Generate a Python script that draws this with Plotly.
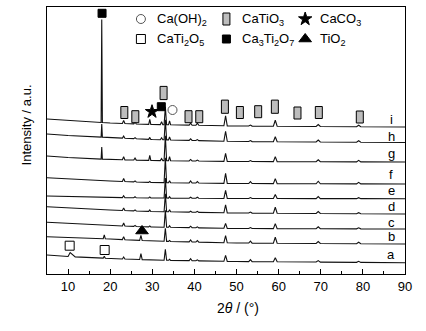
import numpy as np
import plotly.graph_objects as go

# ---------------- data ----------------
# baseline anchors (2theta) and baseline level of each pattern (arbitrary units)
BASE_ANG = [5, 10, 20, 30, 50, 90]
BASE_A = [19.0, 17.5, 15.5, 14.0, 12.5, 11.3]
BASE_B = [37.3, 36.5, 35.0, 33.0, 31.0, 30.0]
BASE_C = [51.7, 50.5, 48.5, 47.0, 45.5, 45.0]
BASE_D = [67.3, 66.0, 64.0, 62.5, 61.0, 60.0]
BASE_E = [78.0, 77.5, 76.5, 76.0, 75.5, 75.3]
BASE_F = [96.3, 95.0, 93.0, 91.5, 90.5, 90.0]
BASE_G = [118.0, 116.5, 114.5, 113.5, 112.5, 112.0]
BASE_H = [140.0, 138.5, 136.5, 134.5, 132.5, 131.5]
BASE_I = [155.0, 153.5, 151.0, 149.5, 148.0, 147.0]

# peak positions (2theta) and half widths
PEAK_POS = [10.5, 18.0, 18.6, 23.2, 25.9, 27.3, 29.4, 32.2, 33.1, 34.1,
            39.1, 40.7, 47.4, 53.3, 59.2, 69.4, 79.0]
PEAK_WID = [1.2, 0.15, 0.25, 0.3, 0.3, 0.3, 0.25, 0.3, 0.3, 0.25,
            0.35, 0.35, 0.4, 0.4, 0.45, 0.5, 0.5]
# peak heights of each pattern
H_A = [4, 0, 2, 2, 0, 6, 0, 0, 11, 1, 2, 1, 6, 2, 4, 1.5, 1]
H_B = [0, 0, 4, 3, 0, 5, 0, 0, 13, 1, 2, 1.5, 7, 2, 6, 2, 1.5]
H_C = [0, 0, 0, 3, 1, 0, 1, 0, 17, 1.5, 1.5, 1, 5, 1, 5, 2, 1]
H_D = [0, 0, 0, 2.5, 1, 0, 1.5, 0, 18, 2, 1, 1, 8, 1, 6, 2, 1]
H_E = [0, 0, 0, 2, 1, 0, 1, 0, 20, 1.5, 1, 1, 8, 1, 4, 2, 1]
H_F = [0, 0, 0, 3, 1, 0, 1, 0, 25, 2, 2, 1.5, 10, 2, 5, 2.5, 1.5]
H_G = [0, 12, 0, 3, 2, 0, 5, 2, 25, 4, 1.5, 1, 8, 1, 5, 2, 1.5]
H_H = [0, 13, 0, 2, 1, 0, 2, 2, 20, 3, 1.5, 1, 10, 1, 5, 2, 1.5]
H_I = [0, 103, 0, 3, 2, 0, 5, 3, 18, 4, 2, 2, 10, 1, 6, 2, 1.5]

SAMPLE_LABELS = ["a", "b", "c", "d", "e", "f", "g", "h", "i"]
LABEL_Y = [20, 37.5, 52, 67.5, 84, 100, 121, 138, 155]

# phase markers (2theta, level)
CATIO3_X = [23.36, 25.97, 32.68, 38.6, 41.15, 47.24, 50.8, 55.14, 59.1, 64.47, 69.54, 79.27]
CATIO3_Y = [161.5, 157.3, 181, 157.3, 157.3, 167.3, 161.5, 162.3, 167.3, 161, 161.5, 157]
CACO3_X = [29.93]
CACO3_Y = [162.3]
CA3TI2O7_X = [18.07, 32.14]
CA3TI2O7_Y = [260.7, 167.3]
CAOH2_X = [34.8]
CAOH2_Y = [164]
CATI2O5_X = [10.38, 18.69]
CATI2O5_Y = [28.3, 24]
TIO2_X = [27.56]
TIO2_Y = [43]

LEGEND_TEXT = ["Ca(OH)<sub>2</sub>", "CaTiO<sub>3</sub>", "CaCO<sub>3</sub>",
               "CaTi<sub>2</sub>O<sub>5</sub>", "Ca<sub>3</sub>Ti<sub>2</sub>O<sub>7</sub>", "TiO<sub>2</sub>"]

# ---------------- build figure ----------------
BASES = [BASE_A, BASE_B, BASE_C, BASE_D, BASE_E, BASE_F, BASE_G, BASE_H, BASE_I]
HEIGHTS = [H_A, H_B, H_C, H_D, H_E, H_F, H_G, H_H, H_I]

fig = go.Figure()
FONT = "Liberation Sans, Arial, sans-serif"

for base, hts in zip(BASES, HEIGHTS):
    pts = [(a, 0.0) for a in BASE_ANG]
    for p, w, h in zip(PEAK_POS, PEAK_WID, hts):
        if h > 0:
            pts += [(p - w, 0.0), (p, float(h)), (p + w, 0.0)]
    pts.sort(key=lambda t: t[0])
    xs = np.array([t[0] for t in pts])
    ys = np.interp(xs, BASE_ANG, base) + np.array([t[1] for t in pts])
    fig.add_trace(go.Scatter(x=xs, y=ys, mode="lines",
                             line=dict(color="#111111", width=1.1), hoverinfo="skip",
                             showlegend=False))

# CaTiO3 rectangles
RW, RH = 0.83, 6.0
for x, y in zip(CATIO3_X, CATIO3_Y):
    big = y > 165
    hh = RH + (0.6 if big else 0)
    fig.add_shape(type="rect", xref="x", yref="y", x0=x - RW, x1=x + RW,
                  y0=y - hh, y1=y + hh, fillcolor="#bdbdbd",
                  line=dict(color="black", width=1), layer="above")

def marker(xs, ys, symbol, size, color="black", lw=1):
    fig.add_trace(go.Scatter(x=xs, y=ys, mode="markers", hoverinfo="skip",
                             showlegend=False,
                             marker=dict(symbol=symbol, size=size, color=color,
                                         line=dict(color="black", width=lw))))

marker(CACO3_X, CACO3_Y, "star", 10)
marker(CA3TI2O7_X, CA3TI2O7_Y, "square", 8)
marker(CAOH2_X, CAOH2_Y, "circle-open", 9, color="#555555")
marker(CATI2O5_X, CATI2O5_Y, "square-open", 9)
marker(TIO2_X, TIO2_Y, "triangle-up", 11)

# legend (drawn inside the plot)
ROW1, ROW2 = 255, 235
LX1, LX2, LX3 = 27.3, 47.6, 66.3
TX1, TX2, TX3 = 30.6, 50.9, 69.4
marker([LX1], [ROW1], "circle-open", 9, color="#555555")
marker([LX1], [ROW2], "square-open", 9)
fig.add_shape(type="rect", xref="x", yref="y", x0=LX2 - RW, x1=LX2 + RW,
              y0=ROW1 - RH, y1=ROW1 + RH, fillcolor="#bdbdbd",
              line=dict(color="black", width=1))
marker([LX2], [ROW2], "square", 8)
marker([LX3], [ROW1], "star", 10)
marker([LX3], [ROW2], "triangle-up", 11)

for tx, ty, t in zip([TX1, TX2, TX3, TX1, TX2, TX3],
                     [ROW1, ROW1, ROW1, ROW2, ROW2, ROW2], LEGEND_TEXT):
    fig.add_annotation(x=tx, y=ty, xref="x", yref="y", text=t, showarrow=False,
                       xanchor="left", yanchor="middle",
                       font=dict(family=FONT, size=13, color="black"))

for lab, ly in zip(SAMPLE_LABELS, LABEL_Y):
    fig.add_annotation(x=86.7, y=ly, xref="x", yref="y", text=lab, showarrow=False,
                       xanchor="center", yanchor="middle",
                       font=dict(family=FONT, size=13, color="black"))

# axis titles
fig.add_annotation(x=0.534, y=-0.128, xref="paper", yref="paper",
                   text="2<i>θ</i> / (°)", showarrow=False,
                   xanchor="center", yanchor="middle",
                   font=dict(family=FONT, size=14, color="black"))
fig.add_annotation(x=-0.056, y=0.56, xref="paper", yref="paper",
                   text="Intensity / a.u.", showarrow=False, textangle=-90,
                   xanchor="center", yanchor="middle",
                   font=dict(family=FONT, size=13, color="black"))

fig.update_xaxes(range=[5, 90], tickvals=[10, 20, 30, 40, 50, 60, 70, 80, 90],
                 ticks="inside", ticklen=5, tickwidth=1, tickcolor="black",
                 minor=dict(tickvals=[15, 25, 35, 45, 55, 65, 75, 85], ticks="inside",
                            ticklen=3, tickcolor="black", tickwidth=1),
                 showline=True, mirror=True, linecolor="black", linewidth=1,
                 showgrid=False, zeroline=False,
                 tickfont=dict(family=FONT, size=13, color="black"))
fig.update_yaxes(range=[0, 267], showticklabels=False, ticks="",
                 showline=True, mirror=True, linecolor="black", linewidth=1,
                 showgrid=False, zeroline=False)

fig.update_layout(width=426, height=331, margin=dict(l=47, r=21, t=7, b=57),
                  paper_bgcolor="white", plot_bgcolor="white", showlegend=False)

fig.write_html("out.html")
